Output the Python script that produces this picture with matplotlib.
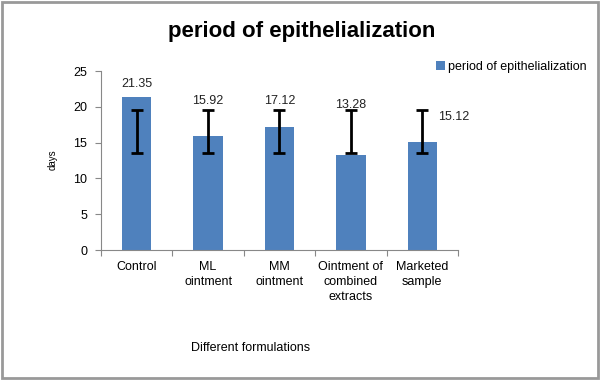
import matplotlib.pyplot as plt
from matplotlib.patches import Rectangle

plt.rcParams['font.family'] = ['Liberation Sans', 'DejaVu Sans']

# data
formulations = ['Control', 'ML\nointment', 'MM\nointment',
                'Ointment of\ncombined\nextracts', 'Marketed\nsample']
period_days = [21.35, 15.92, 17.12, 13.28, 15.12]
err_low = [13.5, 13.5, 13.5, 13.5, 13.5]
err_high = [19.6, 19.6, 19.6, 19.6, 19.6]
value_labels = ['21.35', '15.92', '17.12', '13.28', '15.12']

# label placement (pixels offset from bar top), Excel-like
label_offsets = [(0, 13), (0, 35), (0, 26), (0, 50), (31, 25)]

bar_color = '#4F81BD'

fig = plt.figure(figsize=(6.03, 3.8), dpi=100)
ax = fig.add_axes([0.1675, 0.342, 0.592, 0.471])

x = list(range(len(formulations)))
ax.bar(x, period_days, width=0.41, color=bar_color,
       label='period of epithelialization', zorder=2)

centers = [(lo + hi) / 2 for lo, hi in zip(err_low, err_high)]
half = [(hi - lo) / 2 for lo, hi in zip(err_low, err_high)]
ax.errorbar(x, centers, yerr=half, fmt='none', ecolor='black',
            elinewidth=2, capsize=4, capthick=2, zorder=3)

for i, (v, s) in enumerate(zip(period_days, value_labels)):
    dx, dy = label_offsets[i]
    ax.annotate(s, xy=(i, v), xytext=(dx, dy), textcoords='offset pixels',
                ha='center', va='center', fontsize=9, color='#222222')

ax.set_xlim(-0.5, len(formulations) - 0.5)
ax.set_ylim(0, 25)
ax.set_yticks([0, 5, 10, 15, 20, 25])
ax.set_xticks([i - 0.5 for i in range(len(formulations) + 1)])
ax.set_xticklabels([])
ax.set_xticks(x, minor=True)
ax.set_xticklabels(formulations, minor=True, fontsize=9, linespacing=1.3)
ax.tick_params(axis='x', which='minor', length=0, pad=8)
ax.tick_params(axis='x', which='major', length=4, color='#888888')
ax.tick_params(axis='y', length=4, color='#888888', labelsize=9, pad=6)

for side in ['top', 'right']:
    ax.spines[side].set_visible(False)
for side in ['left', 'bottom']:
    ax.spines[side].set_color('#888888')

fig.text(0.088, 0.58, 'days', rotation=90, fontsize=7, ha='center', va='center')
fig.text(0.415, 0.085, 'Different formulations', fontsize=9, ha='center', va='center')
fig.text(0.5, 0.918, 'period of epithelialization', fontsize=16,
         fontweight='bold', ha='center', va='center')

leg = ax.legend(loc='center left', bbox_to_anchor=(0.723, 1 - 67 / 380),
                bbox_transform=fig.transFigure, frameon=False, fontsize=9,
                handlelength=0.7, handleheight=0.7, handletextpad=0.3,
                borderaxespad=0, borderpad=0)

fig.patches.append(Rectangle((0.004, 0.006), 0.988, 0.99, transform=fig.transFigure,
                             fill=False, edgecolor='#999999', linewidth=2))

fig.savefig('out.png', dpi=100)
